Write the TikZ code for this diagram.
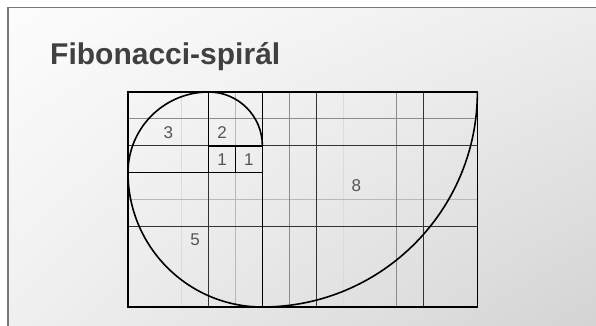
\documentclass[tikz,border=0pt]{standalone}
\usepackage{fontspec}
\setmainfont{Liberation Sans}
\usepackage{tikz}
\usetikzlibrary{
    shadings
}
\usepackage{xcolor}
\definecolor{titlegray}{RGB}{64,64,64}
\definecolor{numgray}{RGB}{84,84,84}
\definecolor{slideline}{RGB}{120,120,120}

\begin{document}
\begin{tikzpicture}[
        x=1pt, y=1pt,
        heading/.style={
            anchor=base west,
            inner sep=0pt,
            text=titlegray,
            font=\fontsize{30}{36}\selectfont\bfseries
        },
        num/.style={
            text=numgray,
            font=\fontsize{17}{20}\selectfont
        },
        boxline/.style={line width=1.6pt, black},
        darkgrid/.style={line width=0.9pt, black!80},
        midgrid/.style={line width=0.8pt, black!45},
        lightgrid/.style={line width=0.7pt, black!28},
        faintgrid/.style={line width=0.7pt, black!14},
        spiral/.style={line width=1.6pt, black}
    ]
        % slide background
        \useasboundingbox (0,0) rectangle (596,326);
        \fill[white] (0,0) rectangle (596,326);
        \shade[shading=bilinear interpolation,
            upper left=black!1, upper right=black!7,
            lower left=black!6, lower right=black!17] (8,0) rectangle (596,318.5);
        \draw[slideline, line width=1.5pt] (8,0) -- (8,318.5) -- (596,318.5);

        \node[heading] (title) at (50,261) {Fibonacci-spirál};

        \begin{scope}[shift={(128,19)}, x=26.875pt, y=26.875pt]
            % grid
            \draw[faintgrid] (2,0) -- (2,8) (8,0) -- (8,8);
            \draw[lightgrid] (4,0) -- (4,8) (0,4) -- (13,4);
            \draw[midgrid] (6,0) -- (6,8) (10,0) -- (10,8) (0,7) -- (13,7);
            \draw[darkgrid] (3,0) -- (3,8) (7,0) -- (7,8) (11,0) -- (11,8);
            \draw[darkgrid] (0,6) -- (13,6) (0,3) -- (13,3);

            % squares
            \draw[boxline] (0,0) rectangle (13,8);
            \draw[boxline] (5,0) -- (5,8);
            \draw[boxline] (0,5) -- (5,5);
            \draw[boxline] (3,5) -- (3,8);
            \draw[boxline] (3,6) -- (5,6);
            \draw[boxline] (4,5) -- (4,6);

            % spiral
            \draw[spiral] (13,8) arc[start angle=0, end angle=-90, radius=8]
                arc[start angle=270, end angle=180, radius=5]
                arc[start angle=180, end angle=90, radius=3]
                arc[start angle=90, end angle=0, radius=2];
            \draw[spiral] (0,5) -- (1.5,5) (5,0) -- (5,1.65) (11,8) -- (13,8);

            \node[num] (n3) at (1.5,6.5) {3};
            \node[num] (n2) at (3.5,6.5) {2};
            \node[num] (n1a) at (3.5,5.5) {1};
            \node[num] (n1b) at (4.5,5.5) {1};
            \node[num] (n5) at (2.5,2.5) {5};
            \node[num] (n8) at (8.5,4.5) {8};
        \end{scope}
    \end{tikzpicture}
\end{document}
